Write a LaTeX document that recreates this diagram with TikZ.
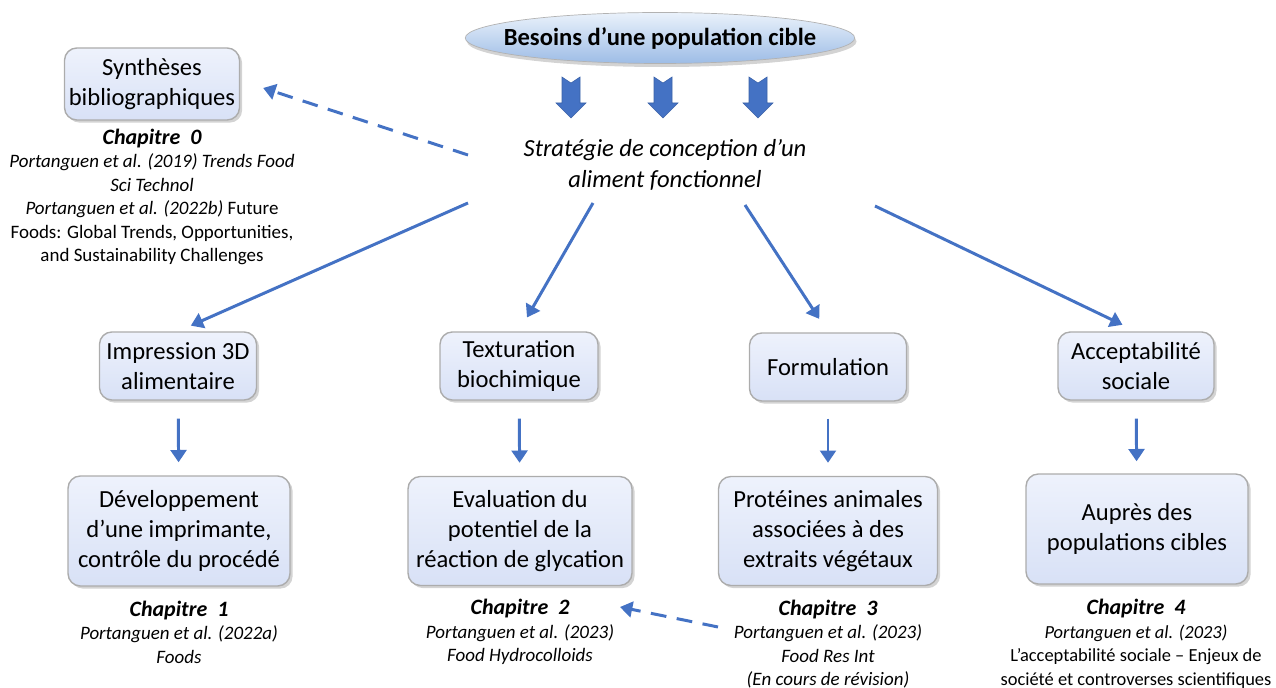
\documentclass[tikz,border=0pt]{standalone}
\usepackage{fontspec}
\setmainfont{Carlito}
\usetikzlibrary{shapes.geometric,shadows,arrows.meta}
\definecolor{flowblue}{HTML}{4472C4}
\definecolor{boxtop}{HTML}{EEF2FC}
\definecolor{boxbot}{HTML}{D8E1F6}
\definecolor{ovaltop}{HTML}{EAF2FB}
\definecolor{ovalbot}{HTML}{9DBCE6}
\newcommand{\chapfont}{\fontsize{12.5}{15}\selectfont\bfseries}
\begin{document}
\begin{tikzpicture}[x=0.02cm,y=-0.02cm,
  box/.style={draw=gray!65, line width=0.8pt, rounded corners=7pt, top color=boxtop, bottom color=boxbot,
    drop shadow={opacity=0.35,shadow xshift=1.5pt,shadow yshift=-1.5pt}, align=center,
    font=\fontsize{14}{17}\selectfont, inner sep=2pt},
  ref/.style={align=center, font=\fontsize{10.8}{13.4}\selectfont\itshape},
  flow/.style={draw=flowblue, line width=1.7pt, -{Triangle[width=9pt,length=7pt]}},
  back/.style={flow, dashed, dash pattern=on 9pt off 6pt},
  fat/.style={fill=flowblue, draw=flowblue!85!black, line width=0.3pt}]
\useasboundingbox (0,0) rectangle (1276,688);
\node[ellipse, draw=gray!60, top color=ovaltop, bottom color=ovalbot, minimum width=7.72cm, minimum height=1.02cm,
  inner xsep=-0.37cm, inner ysep=0.05cm,
  drop shadow={opacity=0.35,shadow xshift=1pt,shadow yshift=-2pt}, font=\fontsize{14}{17}\selectfont\bfseries] (besoins) at (660,38) {Besoins d’une population cible};
\foreach \x in {571,663,758}
  \path[fat] (\x-9,77) -- (\x,83) -- (\x+9,77) -- (\x+9,103) -- (\x+15,103) -- (\x,118) -- (\x-15,103) -- (\x-9,103) -- cycle;
\node[align=center, font=\fontsize{14}{17.5}\selectfont\itshape] (strat) at (665,165) {Stratégie de conception d’un\\aliment fonctionnel};
\node[box, minimum width=3.5cm, minimum height=1.44cm] (synth) at (152,84) {Synthèses\\bibliographiques};
\node[ref] (ch0) at (152,197) {{\chapfont Chapitre~ 0}\\Portanguen et al. (2019) Trends Food\\Sci Technol\\Portanguen et al. (2022b) \upshape Future\\\upshape Foods: Global Trends, Opportunities,\\\upshape and Sustainability Challenges};
\node[box, minimum width=3.14cm, minimum height=1.36cm] (impr) at (178,366) {Impression 3D\\alimentaire};
\node[box, minimum width=3.16cm, minimum height=1.36cm] (textu) at (519,366) {Texturation\\biochimique};
\node[box, minimum width=3.14cm, minimum height=1.36cm] (formu) at (828,367) {Formulation};
\node[box, minimum width=3.12cm, minimum height=1.36cm] (accep) at (1136,366) {Acceptabilité\\sociale};
\node[box, minimum width=4.44cm, minimum height=2.2cm] (devel) at (179,531) {Développement\\d’une imprimante,\\contrôle du procédé};
\node[box, minimum width=4.48cm, minimum height=2.18cm] (evalu) at (520,531) {Evaluation du\\potentiel de la\\réaction de glycation};
\node[box, minimum width=4.38cm, minimum height=2.18cm] (prote) at (828,531) {Protéines animales\\associées à des\\extraits végétaux};
\node[box, minimum width=4.44cm, minimum height=2.2cm] (aupre) at (1137,529) {Auprès des\\populations cibles};
\node[ref] (ch1) at (179,632) {{\chapfont Chapitre~ 1}\\Portanguen et al. (2022a)\\Foods};
\node[ref] (ch2) at (520,632) {{\chapfont Chapitre~ 2}\\Portanguen et al. (2023)\\Food Hydrocolloids};
\node[ref] (ch3) at (828,644) {{\chapfont Chapitre~ 3}\\Portanguen et al. (2023)\\Food Res Int\\(En cours de révision)};
\node[ref, font=\fontsize{10.5}{13.4}\selectfont\itshape] (ch4) at (1136,644) {{\chapfont Chapitre~ 4}\\Portanguen et al. (2023)\\\upshape L’acceptabilité sociale -- Enjeux de\\\upshape société et controverses scientifiques};
\coordinate (s0) at (468,155);
\coordinate (s1) at (468,203);
\coordinate (s2) at (593,203);
\coordinate (s3) at (745,205);
\coordinate (s4) at (875,206);
\coordinate (d3) at (718,627);
\coordinate (d2) at (620,607);
\path[back] (s0) -- ([xshift=0.46cm,yshift=-0.08cm]synth.east);
\path[flow, shorten >=0.28cm] (s1) -- (impr.north);
\path[flow, shorten >=0.32cm] (s2) -- (textu.north);
\path[flow, shorten >=0.32cm] (s3) -- (formu.north);
\path[flow, shorten >=0.3cm] (s4) -- (accep.north);
\path[back] (d3) -- (d2);
\path[flow, shorten <=0.36cm, shorten >=0.26cm] (impr) -- (devel);
\path[flow, shorten <=0.36cm, shorten >=0.26cm] (textu) -- (evalu);
\path[flow, shorten <=0.34cm, shorten >=0.26cm] (formu) -- (prote);
\path[flow, shorten <=0.36cm, shorten >=0.24cm] (accep) -- (aupre);
\end{tikzpicture}
\end{document}
